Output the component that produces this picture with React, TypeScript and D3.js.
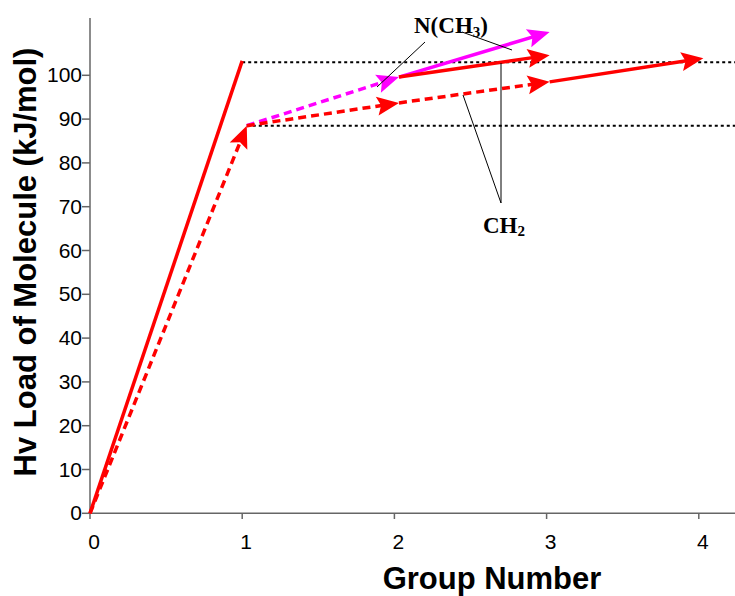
import React from "react";
import * as d3 from "d3";

const W = 735;
const H = 596;

const xTicks = [0, 1, 2, 3, 4];
const yTicks = [0, 10, 20, 30, 40, 50, 60, 70, 80, 90, 100];

// Reference (dotted) levels
const refLevels = [103.0, 88.5];
const refStartX = [1.0, 1.03];

// Arrow segments: [x0, y0, x1, y1]
const segX0 = [0, 0, 1.03, 2.03, 2.03, 1.03, 2.03, 3.02];
const segY0 = [0, 0, 88.5, 99.6, 99.6, 88.5, 93.7, 98.5];
const segX1 = [1.0, 1.03, 2.03, 3.02, 3.02, 2.03, 3.02, 4.03];
const segY1 = [103.3, 88.5, 99.6, 109.9, 104.6, 93.7, 98.5, 103.9];
const segColor = ["red", "red", "magenta", "magenta", "red", "red", "red", "red"];
const segDashed = [false, true, true, false, false, true, true, false];
const segHead = [false, true, true, true, true, true, true, true];

const COLORS: Record<string, string> = { red: "#FF0000", magenta: "#FF00FF" };

export default function App() {
  const x = d3.scaleLinear().domain([0, 4]).range([90, 698.8]);
  const y = d3.scaleLinear().domain([0, 100]).range([513.3, 75.3]);
  const axisColor = "#666";

  const segs = segX0.map((_, i) => {
    const px0 = x(segX0[i]);
    const py0 = y(segY0[i]);
    const px1 = x(segX1[i]);
    const py1 = y(segY1[i]);
    const ang = (Math.atan2(py1 - py0, px1 - px0) * 180) / Math.PI;
    const col = COLORS[segColor[i]];
    const line = d3.line()([
      [px0, py0],
      segHead[i]
        ? [px1 - 12 * Math.cos((ang * Math.PI) / 180), py1 - 12 * Math.sin((ang * Math.PI) / 180)]
        : [px1, py1],
    ]);
    return (
      <g key={i}>
        <path
          d={line || ""}
          stroke={col}
          strokeWidth={3.5}
          fill="none"
          strokeDasharray={segDashed[i] ? "8,5" : undefined}
        />
        {segHead[i] && (
          <path
            d="M0,0 L-22,-9.5 L-18,0 L-22,9.5 Z"
            fill={col}
            transform={`translate(${px1},${py1}) rotate(${ang})`}
          />
        )}
      </g>
    );
  });

  return (
    <svg width={W} height={H} style={{ position: "absolute", left: 0, top: 0, background: "#fff" }}>
      {/* reference dotted lines */}
      {refLevels.map((v, i) => (
        <line
          key={i}
          x1={x(refStartX[i])}
          x2={W}
          y1={y(v)}
          y2={y(v)}
          stroke="#000"
          strokeWidth={2}
          strokeDasharray="3,3"
        />
      ))}
      {/* axes */}
      <line x1={90} x2={90} y1={18} y2={513.3} stroke={axisColor} strokeWidth={1.5} />
      <line x1={90} x2={W} y1={513.3} y2={513.3} stroke={axisColor} strokeWidth={1.5} />
      {yTicks.map((t) => (
        <g key={t}>
          <line x1={82} x2={90} y1={y(t)} y2={y(t)} stroke={axisColor} strokeWidth={1.5} />
          <text
            x={82}
            y={y(t) + 7}
            textAnchor="end"
            fontFamily="Liberation Sans, Arial, sans-serif"
            fontSize={21}
            fill="#000"
          >
            {t}
          </text>
        </g>
      ))}
      {xTicks.map((t) => (
        <g key={t}>
          <line x1={x(t)} x2={x(t)} y1={513.3} y2={519} stroke={axisColor} strokeWidth={1.5} />
          <text
            x={x(t) + 4}
            y={549}
            textAnchor="middle"
            fontFamily="Liberation Sans, Arial, sans-serif"
            fontSize={21}
            fill="#000"
          >
            {t}
          </text>
        </g>
      ))}
      <text
        x={492}
        y={589}
        textAnchor="middle"
        fontFamily="Liberation Sans, Arial, sans-serif"
        fontWeight="bold"
        fontSize={31}
        fill="#000"
      >
        Group Number
      </text>
      <text
        transform="translate(36,262) rotate(-90)"
        textAnchor="middle"
        fontFamily="Liberation Sans, Arial, sans-serif"
        fontWeight="bold"
        fontSize={31}
        fill="#000"
      >
        Hv Load of Molecule (kJ/mol)
      </text>

      {/* data arrows */}
      {segs}

      {/* annotations */}
      <g stroke="#000" strokeWidth={1}>
        <line x1={425} y1={42} x2={377} y2={87} />
        <line x1={462} y1={32} x2={512} y2={50} />
        <line x1={501} y1={203} x2={501} y2={63} />
        <line x1={501} y1={203} x2={463} y2={95} />
      </g>
      <text
        x={414}
        y={33}
        fontFamily="Liberation Serif, Times New Roman, serif"
        fontWeight="bold"
        fontSize={23}
        fill="#000"
      >
        N(CH<tspan fontSize={15} dy={4}>3</tspan>
        <tspan dy={-4}>)</tspan>
      </text>
      <text
        x={483}
        y={233}
        fontFamily="Liberation Serif, Times New Roman, serif"
        fontWeight="bold"
        fontSize={23}
        fill="#000"
      >
        CH<tspan fontSize={15} dy={3}>2</tspan>
      </text>
    </svg>
  );
}
